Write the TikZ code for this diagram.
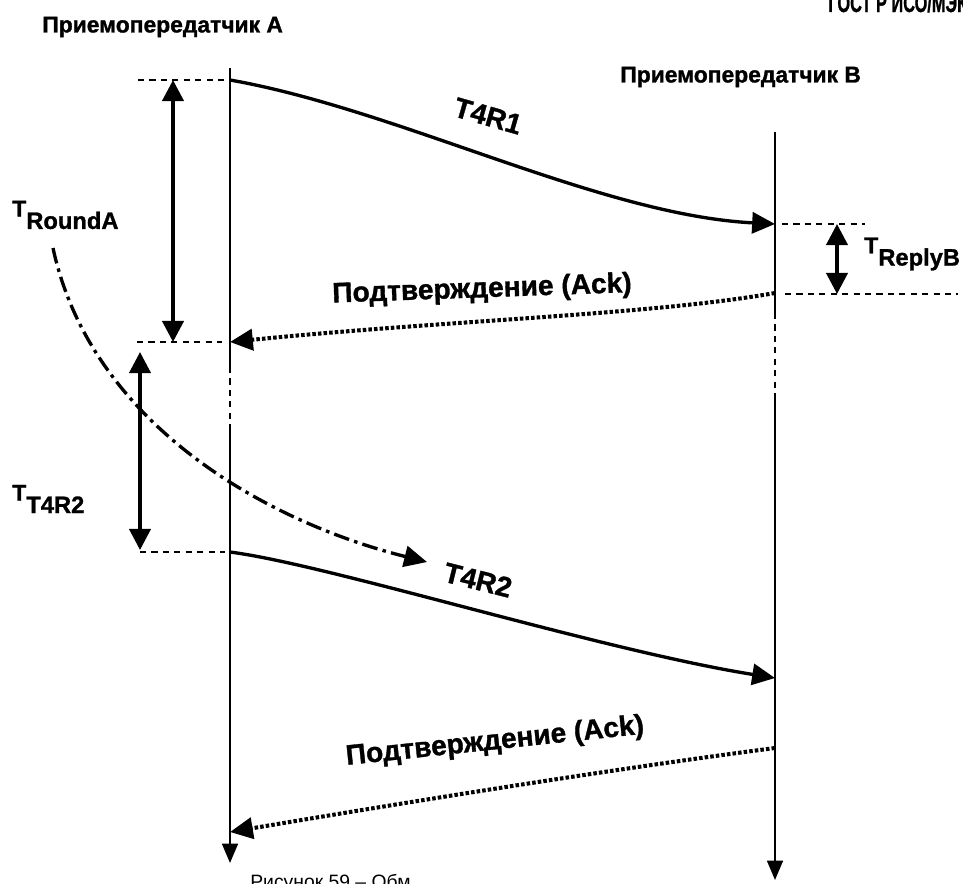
\documentclass[tikz,border=0pt]{standalone}
\usepackage{fontspec}
\setmainfont{Liberation Sans}[BoldFeatures={FakeBold=1.2}]
\usetikzlibrary{arrows.meta}
\newcommand{\tsub}[1]{{\fontsize{13}{13}\selectfont T}\raisebox{-7pt}{\fontsize{13.5}{13.5}\selectfont #1}}

\begin{document}
\begin{tikzpicture}[x=0.2mm, y=-0.2mm,
  life/.style={line width=1.2pt},
  lifegap/.style={line width=1.2pt, dash pattern=on 3.5pt off 3pt},
  guide/.style={line width=1pt, dash pattern=on 3.5pt off 3pt},
  msg/.style={line width=1.9pt, -{Triangle[length=13pt, width=12pt]}},
  ackmsg/.style={line width=2.3pt, dash pattern=on 2pt off 1.2pt, -{Triangle[length=13pt, width=12pt]}},
  roundmsg/.style={line width=1.9pt, dash pattern=on 9pt off 3pt on 2pt off 3pt, -{Triangle[length=13pt, width=12pt]}},
  span/.style={line width=2.2pt, {Triangle[length=12pt, width=12pt]}-{Triangle[length=12pt, width=12pt]}},
  endtip/.style={-{Triangle[length=11pt, width=9pt]}},
  hdr/.style={font=\bfseries\fontsize{13}{13}\selectfont, inner sep=0pt, anchor=west},
  msglbl/.style={font=\bfseries\fontsize{16}{16}\selectfont, inner sep=0pt},
  tlbl/.style={font=\bfseries, inner sep=0pt, anchor=west}
]
\useasboundingbox (0,0) rectangle (963,883);
\clip (0,0) rectangle (963,883);
\node[font=\bfseries\fontsize{15}{15}\selectfont, anchor=base west, inner sep=0pt] (gost) at (828,12) {\scalebox{0.62}[1]{ГОСТ Р ИСО/МЭК 24}};
\node[font=\fontsize{11}{11}\selectfont, anchor=base west, inner sep=0pt] (cap) at (250,888) {Рисунок 59 – Обм};
\node[hdr] (hdrA) at (42,27) {Приемопередатчик A};
\node[hdr] (hdrB) at (620,77) {Приемопередатчик B};
\coordinate (a0) at (230,68);  \coordinate (a1) at (230,367);
\coordinate (a2) at (230,426); \coordinate (a3) at (230,863);
\coordinate (b0) at (775,132); \coordinate (b1) at (775,313);
\coordinate (b2) at (775,395); \coordinate (b3) at (775,880);
\draw[life] (a0) -- (a1);
\draw[lifegap] (a1) -- (a2);
\draw[life, endtip] (a2) -- (a3);
\draw[life] (b0) -- (b1);
\draw[lifegap] (b1) -- (b2);
\draw[life, endtip] (b2) -- (b3);
\coordinate (aOut1) at (230,80);  \coordinate (bIn1) at (775,224);
\coordinate (bOut1) at (775,293); \coordinate (aIn1) at (230,342);
\coordinate (aOut2) at (230,552); \coordinate (bIn2) at (775,678);
\coordinate (bOut2) at (775,748); \coordinate (aIn2) at (230,832);
\draw[msg] (aOut1) .. controls (400,110) and (600,215) .. (bIn1);
\draw[ackmsg] (bOut1) .. controls (650,315) and (450,320) .. (aIn1);
\draw[msg] (aOut2) .. controls (330,565) and (600,650) .. (bIn2);
\draw[ackmsg] (bOut2) .. controls (620,768) and (420,800) .. (aIn2);
\node[msglbl, rotate=-16] (t4r1) at (488,116) {T4R1};
\node[msglbl, rotate=2] (ack1) at (482,290) {Подтверждение (Ack)};
\node[msglbl, rotate=-14] (t4r2) at (478,580) {T4R2};
\node[msglbl, rotate=6] (ack2) at (495,742) {Подтверждение (Ack)};
\coordinate (g1a) at (138,80);  \coordinate (g1b) at (225,80);
\coordinate (g2a) at (137,342); \coordinate (g2b) at (222,342);
\coordinate (g3a) at (140,552); \coordinate (g3b) at (225,552);
\coordinate (g4a) at (782,224); \coordinate (g4b) at (865,224);
\coordinate (g5a) at (785,294); \coordinate (g5b) at (958,294);
\foreach \i in {1,...,5} {\draw[guide] (g\i a) -- (g\i b);}
\coordinate (s1a) at (173,80);  \coordinate (s1b) at (173,342);
\coordinate (s2a) at (140,352); \coordinate (s2b) at (140,550);
\coordinate (s3a) at (837,224); \coordinate (s3b) at (837,294);
\foreach \i in {1,2,3} {\draw[span] (s\i a) -- (s\i b);}
\node[tlbl] (tround) at (12,215) {\tsub{RoundA}};
\node[tlbl] (treply) at (864,254) {\tsub{ReplyB}};
\node[tlbl] (tt4r2) at (12,499) {\tsub{T4R2}};
\coordinate (r0) at (53,248); \coordinate (r1) at (427,562);
\draw[roundmsg] (r0) .. controls (90,420) and (260,520) .. (r1);
\end{tikzpicture}
\end{document}
